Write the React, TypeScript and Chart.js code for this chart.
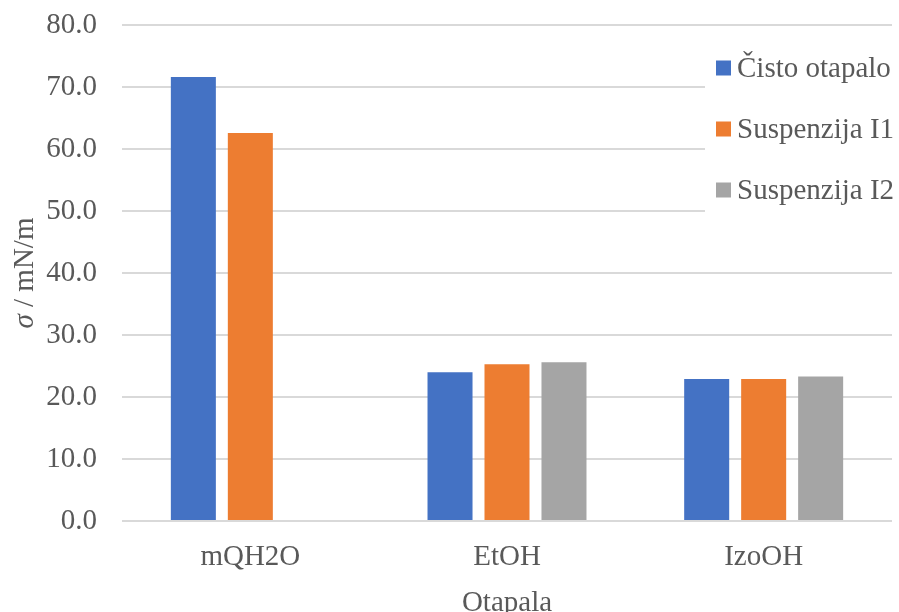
import React, { useEffect, useRef } from "react";
import { Chart, registerables } from "chart.js";

Chart.register(...registerables);

const categories = ["mQH2O", "EtOH", "IzoOH"];
const seriesLabels = ["Čisto otapalo", "Suspenzija I1", "Suspenzija I2"];
const cistoOtapalo = [71.6, 24.0, 22.9];
const suspenzijaI1 = [62.6, 25.3, 22.9];
const suspenzijaI2 = [null, 25.6, 23.3];
const seriesColors = ["#4472C4", "#ED7D31", "#A5A5A5"];
const yMin = 0;
const yMax = 80;
const yStep = 10;
const xTitle = "Otapala";
const yTitleItalic = "σ";
const yTitleRest = " / mN/m";

const FONT = "'Liberation Serif', 'Times New Roman', serif";
const TEXT = "#595959";
const FS = 29;

const overlayPlugin = {
  id: "overlay",
  afterDraw(chart: any) {
    const ctx = chart.ctx;
    const area = chart.chartArea;
    // y-axis title with italic sigma
    ctx.save();
    const cy = (area.top + area.bottom) / 2;
    ctx.translate(25, cy);
    ctx.rotate(-Math.PI / 2);
    ctx.fillStyle = TEXT;
    ctx.textBaseline = "middle";
    ctx.font = `italic ${FS}px ${FONT}`;
    const w1 = ctx.measureText(yTitleItalic).width;
    ctx.font = `${FS}px ${FONT}`;
    const w2 = ctx.measureText(yTitleRest).width;
    const start = -(w1 + w2) / 2;
    ctx.textAlign = "left";
    ctx.font = `italic ${FS}px ${FONT}`;
    ctx.fillText(yTitleItalic, start, 0);
    ctx.font = `${FS}px ${FONT}`;
    ctx.fillText(yTitleRest, start + w1, 0);
    ctx.restore();

    // legend
    ctx.save();
    ctx.fillStyle = "#ffffff";
    ctx.fillRect(705, 40, 194, 175);
    const rowY = [68, 129, 190];
    ctx.font = `${FS}px ${FONT}`;
    ctx.textBaseline = "middle";
    ctx.textAlign = "left";
    chart.data.datasets.forEach((ds: any, i: number) => {
      ctx.fillStyle = ds.backgroundColor;
      ctx.fillRect(716, rowY[i] - 7.5, 15, 15);
      ctx.fillStyle = TEXT;
      ctx.fillText(ds.label, 737, rowY[i] + 1);
    });
    ctx.restore();
  },
};

export default function App() {
  const ref = useRef<HTMLCanvasElement | null>(null);
  useEffect(() => {
    document.body.style.margin = "0";
    const chart = new Chart(ref.current as HTMLCanvasElement, {
      type: "bar",
      data: {
        labels: categories,
        datasets: [
          { label: seriesLabels[0], data: cistoOtapalo, backgroundColor: seriesColors[0] },
          { label: seriesLabels[1], data: suspenzijaI1, backgroundColor: seriesColors[1] },
          { label: seriesLabels[2], data: suspenzijaI2 as any, backgroundColor: seriesColors[2] },
        ],
      },
      options: {
        responsive: false,
        animation: false,
        layout: { padding: { top: 25, right: 7, bottom: 0, left: 0 } },
        plugins: {
          legend: { display: false },
          tooltip: { enabled: false },
        },
        datasets: {
          bar: { categoryPercentage: 0.666, barPercentage: 0.79 },
        },
        scales: {
          x: {
            grid: { display: false, drawTicks: false },
            border: { display: false },
            ticks: { color: TEXT, font: { family: FONT, size: FS }, padding: 19 },
            title: {
              display: true,
              text: xTitle,
              color: TEXT,
              font: { family: FONT, size: FS, lineHeight: 0.62 },
              padding: { top: 0, bottom: 0 },
            },
            afterFit(scale: any) {
              scale.height = 91;
            },
          },
          y: {
            min: yMin,
            max: yMax,
            ticks: {
              stepSize: yStep,
              color: TEXT,
              font: { family: FONT, size: FS },
              padding: 25,
              callback: (v: any) => Number(v).toFixed(1),
            },
            grid: { color: "#d9d9d9", lineWidth: 2, drawTicks: false },
            border: { display: false },
            afterFit(scale: any) {
              scale.width = 122;
              scale.paddingTop = 0;
              scale.paddingBottom = 0;
            },
          },
        },
      },
      plugins: [overlayPlugin],
    });
    return () => chart.destroy();
  }, []);
  return (
    <div style={{ position: "absolute", left: 0, top: 0, width: 899, height: 612 }}>
      <canvas ref={ref} width={899} height={612} style={{ display: "block" }} />
    </div>
  );
}
